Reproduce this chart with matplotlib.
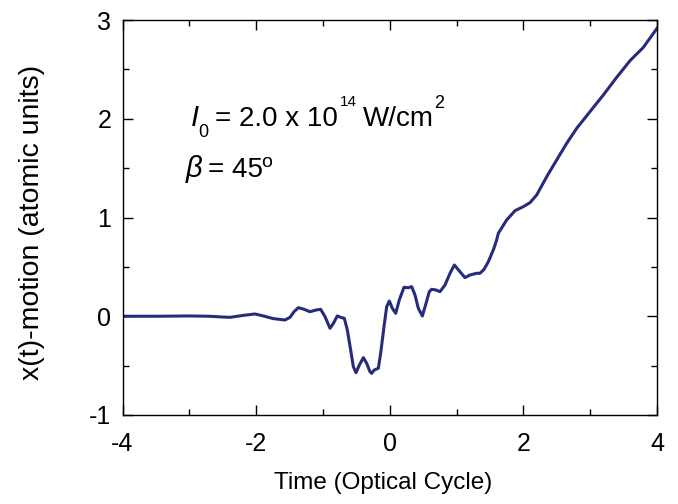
import matplotlib
matplotlib.use("Agg")
import matplotlib.pyplot as plt
from matplotlib.ticker import MultipleLocator

plt.rcParams['font.family'] = ['Liberation Sans', 'DejaVu Sans']
plt.rcParams['mathtext.fontset'] = 'custom'
plt.rcParams['mathtext.rm'] = 'Liberation Sans'
plt.rcParams['mathtext.it'] = 'Liberation Sans:italic'
plt.rcParams['axes.unicode_minus'] = False

time = [-4.0, -3.5, -3.0, -2.7, -2.5,
        -2.391, -2.191, -2.017, -1.892, -1.743, -1.568, -1.493, -1.433, -1.368,
        -1.293, -1.194, -1.104, -1.034, -0.969, -0.894, -0.844, -0.785, -0.735,
        -0.680, -0.635, -0.585, -0.545, -0.505, -0.455, -0.395, -0.345, -0.296,
        -0.271, -0.231, -0.171, -0.136, -0.086, -0.046, -0.006, 0.039, 0.089,
        0.143, 0.213, 0.278, 0.328, 0.378, 0.428, 0.488, 0.543, 0.592, 0.627,
        0.692, 0.752, 0.827, 0.902, 0.967, 1.051, 1.126, 1.201, 1.301, 1.351,
        1.411, 1.476, 1.550, 1.600, 1.625, 1.750, 1.875, 1.999, 2.099, 2.199,
        2.349, 2.498, 2.648, 2.798, 2.997, 3.197, 3.396, 3.596, 3.796, 4.0]
xpos = [0.0, 0.0, 0.003, 0.0, -0.008,
        -0.011, 0.009, 0.023, 0.003, -0.024, -0.038, -0.011, 0.046, 0.087,
        0.073, 0.046, 0.063, 0.070, -0.004, -0.122, -0.072, 0.003, -0.011,
        -0.021, -0.139, -0.342, -0.511, -0.571, -0.494, -0.419, -0.477, -0.561,
        -0.578, -0.544, -0.527, -0.375, -0.105, 0.097, 0.154, 0.080, 0.030,
        0.165, 0.293, 0.289, 0.300, 0.215, 0.080, 0.003, 0.131, 0.249, 0.273,
        0.266, 0.249, 0.316, 0.435, 0.519, 0.451, 0.391, 0.418, 0.435, 0.435,
        0.475, 0.553, 0.671, 0.772, 0.840, 0.975, 1.069, 1.110, 1.150, 1.228,
        1.413, 1.582, 1.751, 1.903, 2.072, 2.241, 2.419, 2.588, 2.723, 2.916]

W, H = 678, 504
fig = plt.figure(figsize=(W / 100, H / 100), dpi=100)
ax = fig.add_axes([122.5/W, 1-415/H, (657-122.5)/W, (415-20)/H])

ax.plot(time, xpos, color='#272B7A', lw=2.2, solid_joinstyle='round')

ax.set_xlim(-4, 4)
ax.set_ylim(-1, 3)
ax.xaxis.set_major_locator(MultipleLocator(2))
ax.xaxis.set_minor_locator(MultipleLocator(1))
ax.yaxis.set_major_locator(MultipleLocator(1))
ax.yaxis.set_minor_locator(MultipleLocator(0.5))
ax.tick_params(which='both', direction='in', top=True, right=True, labelsize=18, width=1)
ax.tick_params(which='major', length=7)
ax.tick_params(which='minor', length=4)
ax.tick_params(axis='x', which='major', pad=12)
ax.tick_params(axis='y', which='major', pad=8)
for s in ax.spines.values():
    s.set_linewidth(1.0)

ax.set_xlabel('Time (Optical Cycle)', fontsize=17.5)
ax.set_ylabel('x(t)-motion (atomic units)', fontsize=20.5)
ax.xaxis.set_label_coords(0.488, -0.145)
ax.yaxis.set_label_coords(-0.145, 0.487)

# annotation pieces: (text, left px, baseline px from top, size, style)
pieces = [
    ('I', 191, 125.7, 21, 'italic'),
    ('0', 198, 136.7, 13, 'normal'),
    ('= 2.0 x 10', 215, 125.7, 20, 'normal'),
    ('14', 340, 106, 11, 'normal'),
    ('W/cm', 363, 125.7, 20, 'normal'),
    ('2', 434.5, 108, 13, 'normal'),
    (r'$\beta$', 185, 176.7, 21, 'normal'),
    ('= 45', 207.5, 176.7, 20, 'normal'),
    ('o', 261.5, 166.7, 14, 'normal'),
]
inv = ax.transData.inverted()
for txt, px, py, size, style in pieces:
    dx, dy = inv.transform((px, H - py))
    ax.text(dx, dy, txt, fontsize=size, style=style, va='baseline', ha='left')

fig.savefig('out.png', dpi=100)
